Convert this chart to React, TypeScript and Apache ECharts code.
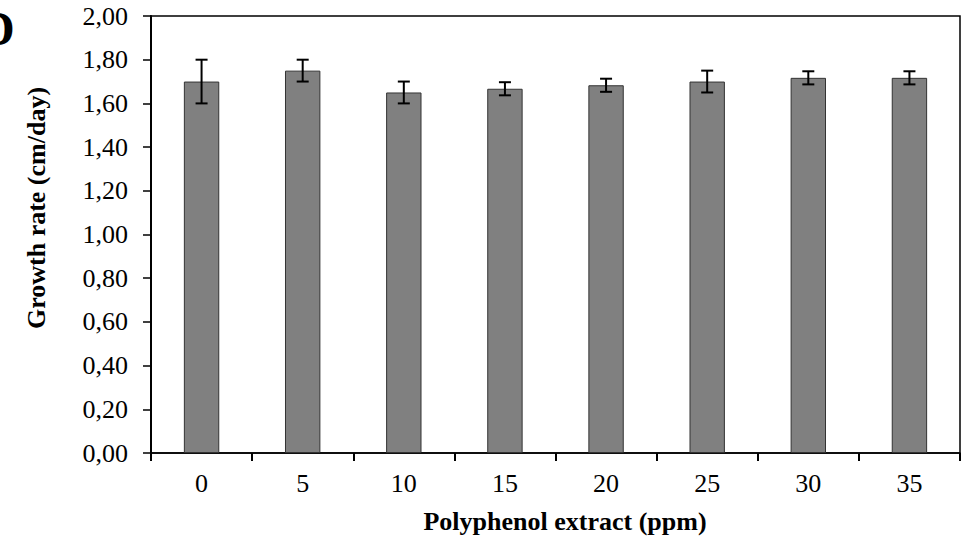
import React, { useEffect, useRef } from "react";
import * as echarts from "echarts";

const categories = ["0", "5", "10", "15", "20", "25", "30", "35"];
const growthRate = [1.70, 1.75, 1.65, 1.667, 1.683, 1.70, 1.717, 1.717];
const errorSD = [0.10, 0.05, 0.05, 0.03, 0.03, 0.05, 0.03, 0.03];
const yTicks = { min: 0, max: 2, interval: 0.2 };

const FONT = "'Liberation Serif', 'Times New Roman', serif";

export default function App() {
  const ref = useRef<HTMLDivElement>(null);

  useEffect(() => {
    if (!ref.current) return;
    const chart = echarts.init(ref.current, null, { renderer: "svg" });
    const errData = growthRate.map((v, i) => [i, v - errorSD[i], v + errorSD[i]]);

    chart.setOption({
      animation: false,
      backgroundColor: "#ffffff",
      grid: {
        left: 151,
        right: 10,
        top: 16,
        bottom: 86,
        show: true,
        borderColor: "#000",
        borderWidth: 1.5,
        backgroundColor: "transparent",
      },
      xAxis: {
        type: "category",
        data: categories,
        boundaryGap: true,
        axisLine: { lineStyle: { color: "#000", width: 1.5 } },
        axisTick: { show: true, inside: false, length: 8, lineStyle: { color: "#000", width: 2 } },
        axisLabel: { color: "#000", fontFamily: FONT, fontSize: 26, margin: 17 },
        splitLine: { show: false },
      },
      yAxis: {
        type: "value",
        min: yTicks.min,
        max: yTicks.max,
        interval: yTicks.interval,
        axisLine: { show: true, lineStyle: { color: "#000", width: 2 } },
        axisTick: { show: true, inside: false, length: 8, lineStyle: { color: "#000", width: 1.5 } },
        axisLabel: {
          color: "#000",
          fontFamily: FONT,
          fontSize: 26,
          margin: 23,
          formatter: (v: number) => v.toFixed(2).replace(".", ","),
        },
        splitLine: { show: false },
      },
      graphic: [
        {
          type: "text",
          left: -20,
          top: 4,
          style: { text: "D", font: `bold 48px ${FONT}`, fill: "#000" },
        },
        {
          type: "text",
          x: 36,
          y: 208,
          rotation: Math.PI / 2,
          style: {
            text: "Growth rate (cm/day)",
            font: `bold 26px ${FONT}`,
            fill: "#000",
            align: "center",
            verticalAlign: "middle",
          },
        },
        {
          type: "text",
          x: 565,
          y: 521,
          style: {
            text: "Polyphenol extract (ppm)",
            font: `bold 26px ${FONT}`,
            fill: "#000",
            align: "center",
            verticalAlign: "middle",
          },
        },
      ],
      series: [
        {
          type: "bar",
          data: growthRate,
          barWidth: "35%",
          itemStyle: { color: "#808080", borderColor: "#333", borderWidth: 1 },
        },
        {
          type: "custom",
          data: errData,
          z: 10,
          renderItem: (params: any, api: any) => {
            const x = api.value(0);
            const lo = api.coord([x, api.value(1)]);
            const hi = api.coord([x, api.value(2)]);
            const half = 6;
            const style = { stroke: "#000", lineWidth: 2 };
            return {
              type: "group",
              children: [
                { type: "line", shape: { x1: hi[0], y1: hi[1], x2: lo[0], y2: lo[1] }, style },
                { type: "line", shape: { x1: hi[0] - half, y1: hi[1], x2: hi[0] + half, y2: hi[1] }, style },
                { type: "line", shape: { x1: lo[0] - half, y1: lo[1], x2: lo[0] + half, y2: lo[1] }, style },
              ],
            };
          },
        },
      ],
    });
    return () => chart.dispose();
  }, []);

  return (
    <div
      ref={ref}
      style={{ position: "absolute", left: 0, top: 0, width: 970, height: 539 }}
    />
  );
}
